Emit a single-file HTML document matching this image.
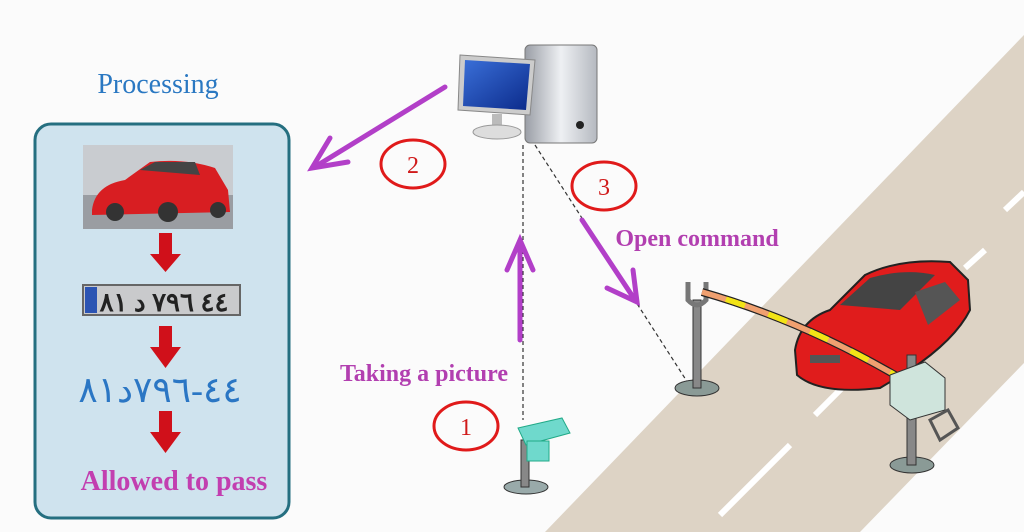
<!DOCTYPE html>
<html><head><meta charset="utf-8"><style>
body{margin:0;width:1024px;height:532px;overflow:hidden;background:#fff;}
svg{display:block}
text{font-family:"Liberation Serif",serif;}
</style></head><body>
<svg width="1024" height="532" viewBox="0 0 1024 532">
<defs>
<linearGradient id="tw" x1="0" x2="1"><stop offset="0" stop-color="#9a9ea6"/><stop offset=".5" stop-color="#eef0f3"/><stop offset="1" stop-color="#b5b9c0"/></linearGradient>
<linearGradient id="scr" x1="0" y1="0" x2="1" y2="1"><stop offset="0" stop-color="#3a6fd8"/><stop offset="1" stop-color="#0b2a8a"/></linearGradient>
</defs>
<rect width="1024" height="532" fill="#fbfbfb"/>
<polygon points="545,532 1024,35 1024,363 860,532" fill="#ddd3c5"/>
<g stroke="#fff" stroke-width="6">
<line x1="720" y1="515" x2="790" y2="445"/>
<line x1="815" y1="415" x2="850" y2="380"/>
<line x1="965" y1="268" x2="985" y2="250"/>
<line x1="1005" y1="210" x2="1024" y2="192"/>
</g>
<text x="158" y="93" font-size="28" fill="#2a78c2" text-anchor="middle">Processing</text>
<rect x="35" y="124" width="254" height="394" rx="16" fill="#cfe3ee" stroke="#256f80" stroke-width="3"/>
<rect x="83" y="145" width="150" height="84" fill="#c9ccd0"/>
<rect x="83" y="195" width="150" height="34" fill="#9a9da2"/>
<path d="M92,210 Q95,185 125,180 L150,162 Q185,158 215,168 L228,190 L230,212 L92,215Z" fill="#d81e22"/>
<circle cx="115" cy="212" r="9" fill="#333"/><circle cx="168" cy="212" r="10" fill="#333"/><circle cx="218" cy="210" r="8" fill="#333"/>
<path d="M140,170 L155,162 L195,162 L200,175Z" fill="#444"/>
<g fill="#d0101a">
<rect x="159" y="233" width="13" height="22"/><polygon points="150,254 181,254 165.5,272"/>
<rect x="159" y="326" width="13" height="22"/><polygon points="150,347 181,347 165.5,368"/>
<rect x="159" y="411" width="13" height="22"/><polygon points="150,432 181,432 165.5,453"/>
</g>
<rect x="83" y="285" width="157" height="30" fill="#c9cacc" stroke="#666" stroke-width="2"/>
<rect x="85" y="287" width="12" height="26" fill="#2b54b3"/>
<text x="164" y="311" font-size="26" font-weight="bold" fill="#222" text-anchor="middle" direction="ltr" unicode-bidi="bidi-override" font-family="'DejaVu Sans',sans-serif">٨١ د ٧٩٦ ٤٤</text>
<text x="160" y="402" font-size="36" fill="#2a76c4" text-anchor="middle" direction="ltr" unicode-bidi="bidi-override" font-family="'DejaVu Sans',sans-serif">٨١د٧٩٦-٤٤</text>
<text x="174" y="490" font-size="28" font-weight="bold" fill="#c23fb0" text-anchor="middle">Allowed to pass</text>
<rect x="525" y="45" width="72" height="98" rx="5" fill="url(#tw)" stroke="#777"/>
<circle cx="580" cy="125" r="4" fill="#222"/>
<polygon points="460,55 535,60 530,115 458,110" fill="#ccc" stroke="#888"/>
<polygon points="465,60 530,64 526,110 463,106" fill="url(#scr)"/>
<rect x="492" y="114" width="10" height="14" fill="#bbb"/>
<ellipse cx="497" cy="132" rx="24" ry="7" fill="#ddd" stroke="#999"/>
<g stroke="#333" stroke-width="1.2" stroke-dasharray="4,3" fill="none">
<line x1="523" y1="145" x2="523" y2="420"/>
<line x1="535" y1="145" x2="688" y2="383"/>
</g>
<g stroke="#b23fc8" stroke-width="5" fill="none" stroke-linecap="round">
<line x1="445" y1="87" x2="318" y2="165"/>
<polyline points="348,162 312,168 330,138"/>
<line x1="520" y1="340" x2="520" y2="245"/>
<polyline points="507,270 520,240 533,270"/>
<line x1="582" y1="220" x2="635" y2="300"/>
<polyline points="607,288 637,302 633,270"/>
</g>
<text x="424" y="381" font-size="24" font-weight="bold" fill="#b23fb0" text-anchor="middle">Taking a picture</text>
<text x="697" y="246" font-size="24" font-weight="bold" fill="#b23fb0" text-anchor="middle">Open command</text>
<g fill="none" stroke="#e01a1a" stroke-width="3">
<ellipse cx="413" cy="164" rx="32" ry="24"/>
<ellipse cx="604" cy="186" rx="32" ry="24"/>
<ellipse cx="466" cy="426" rx="32" ry="24"/>
</g>
<g font-size="24" fill="#d01a1a" text-anchor="middle">
<text x="413" y="173">2</text><text x="604" y="195">3</text><text x="466" y="435">1</text>
</g>
<ellipse cx="526" cy="487" rx="22" ry="7" fill="#9aa" stroke="#333"/>
<rect x="521" y="440" width="8" height="47" fill="#888" stroke="#333"/>
<path d="M518,428 L562,418 L570,433 L526,445Z" fill="#6fd9cc" stroke="#2a8" />
<rect x="527" y="441" width="22" height="20" fill="#6fd9cc" stroke="#2a8"/>
<ellipse cx="697" cy="388" rx="22" ry="8" fill="#8a9a96" stroke="#333"/>
<rect x="693" y="300" width="8" height="88" fill="#888" stroke="#333"/>
<path d="M688,282 L688,300 Q697,310 706,300 L706,282" fill="none" stroke="#777" stroke-width="5"/>
<path d="M795,350 Q800,320 830,310 L865,275 Q900,258 950,262 L968,280 L970,310 Q955,340 910,370 L880,388 Q820,395 797,375Z" fill="#e01c1c" stroke="#222" stroke-width="2"/>
<path d="M840,305 L870,278 Q905,268 935,275 L900,310Z" fill="#444"/>
<path d="M915,292 L945,282 L960,300 L928,325Z" fill="#555"/>
<rect x="810" y="355" width="30" height="8" fill="#555"/>
<path d="M702,292 Q800,320 895,375" fill="none" stroke="#222" stroke-width="8"/>
<path d="M702,292 Q800,320 895,375" fill="none" stroke="#f0a070" stroke-width="5.5"/>
<path d="M702,292 Q800,320 895,375" fill="none" stroke="#f2e416" stroke-width="5.5" stroke-dasharray="20,25" stroke-dashoffset="-25"/>
<ellipse cx="912" cy="465" rx="22" ry="8" fill="#8a9a96" stroke="#333"/>
<rect x="907" y="355" width="9" height="110" fill="#888" stroke="#333"/>
<polygon points="890,375 925,362 945,378 945,410 910,420 890,405" fill="#cfe4dc" stroke="#333"/>
<polygon points="930,420 948,410 958,428 940,440" fill="none" stroke="#555" stroke-width="3"/>
</svg>
</body></html>
